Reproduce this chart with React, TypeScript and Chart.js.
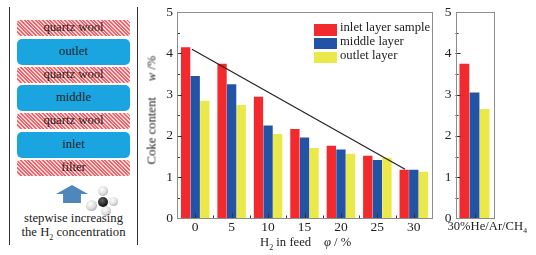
import React, { useEffect, useRef } from "react";
import { Chart, registerables } from "chart.js";

Chart.register(...registerables);

const categories = ["0", "5", "10", "15", "20", "25", "30"];
const inletValues = [4.15, 3.75, 2.95, 2.17, 1.76, 1.52, 1.18];
const middleValues = [3.45, 3.25, 2.25, 1.96, 1.67, 1.42, 1.18];
const outletValues = [2.85, 2.75, 2.05, 1.71, 1.57, 1.47, 1.13];
const trendX = [-0.45, 28.8];
const trendY = [4.06, 1.18];
const sideCategories = ["30%He/Ar/CH₄"];
const sideInlet = [3.75];
const sideMiddle = [3.05];
const sideOutlet = [2.65];
const seriesNames = ["inlet layer sample", "middle layer", "outlet layer"];
const seriesColors = ["#f22a2e", "#2353a5", "#ebe84a"];
const yMinorTicks = [0.5, 1, 1.5, 2, 2.5, 3, 3.5, 4, 4.5];

const SERIF = "'Liberation Serif', serif";
const TEXT = "#222";

const boxAndTicks = {
  id: "boxAndTicks",
  afterDraw(chart: any) {
    const { ctx, chartArea: a, scales } = chart;
    ctx.save();
    ctx.lineWidth = 1;
    ctx.strokeStyle = "#333";
    ctx.beginPath();
    for (const v of yMinorTicks) {
      const y = Math.round(scales.y.getPixelForValue(v)) + 0.5;
      ctx.moveTo(a.left, y);
      ctx.lineTo(a.left + (Number.isInteger(v) ? 5 : 3), y);
    }
    const n = scales.x.ticks.length;
    const step = a.width / n;
    for (let i = 0; i < n; i++) {
      const xc = Math.round(scales.x.getPixelForTick(i)) + 0.5;
      ctx.moveTo(xc, a.bottom);
      ctx.lineTo(xc, a.bottom - 5);
      if (i > 0) {
        const xb = Math.round(a.left + step * i) + 0.5;
        ctx.moveTo(xb, a.bottom);
        ctx.lineTo(xb, a.bottom - 3);
      }
    }
    ctx.stroke();
    ctx.strokeStyle = "#8c8c8c";
    ctx.strokeRect(Math.round(a.left) + 0.5, Math.round(a.top) + 0.5, Math.round(a.width), Math.round(a.height));
    ctx.restore();
  },
};

function yAxis(width: number) {
  return {
    min: 0,
    max: 5,
    grid: { display: false, drawTicks: false },
    border: { display: false },
    ticks: { stepSize: 1, color: TEXT, padding: 4, font: { family: SERIF, size: 13.5 } },
    afterFit(s: any) {
      s.width = width;
    },
  };
}

function xAxis(labelOffset: number, size: number) {
  return {
    offset: true,
    grid: { display: false, drawTicks: false },
    border: { display: false },
    ticks: {
      color: TEXT,
      padding: 1,
      autoSkip: false,
      maxRotation: 0,
      labelOffset,
      font: { family: SERIF, size },
    },
    afterFit(s: any) {
      s.height = 36.5;
      s.paddingLeft = 0;
      s.paddingRight = 0;
    },
  };
}

const baseOptions = {
  responsive: false,
  animation: false,
  plugins: { legend: { display: false }, tooltip: { enabled: false } },
};

const Hatch: React.FC<{ top: number; height: number; label: string }> = ({ top, height, label }) => (
  <div
    style={{
      position: "absolute",
      left: 17,
      width: 113,
      top,
      height,
      lineHeight: height - 2 + "px",
      textAlign: "center",
      borderRadius: 3,
      background: "repeating-linear-gradient(45deg, #f4626a 0 1.4px, #fbd9da 1.4px 2.6px)",
    }}
  >
    {label}
  </div>
);

const Blue: React.FC<{ top: number; label: string }> = ({ top, label }) => (
  <div
    style={{
      position: "absolute",
      left: 17,
      width: 113,
      top,
      height: 26,
      lineHeight: "25px",
      textAlign: "center",
      borderRadius: 5,
      background: "#1ba5e0",
    }}
  >
    {label}
  </div>
);

const Ball: React.FC<{ x: number; y: number; r: number; dark?: boolean }> = ({ x, y, r, dark }) => (
  <div
    style={{
      position: "absolute",
      left: x - r,
      top: y - r,
      width: r * 2,
      height: r * 2,
      borderRadius: "50%",
      background: dark
        ? "radial-gradient(circle at 40% 35%, #666, #111 70%)"
        : "radial-gradient(circle at 40% 35%, #fff, #ddd 50%, #888)",
    }}
  />
);

export default function App() {
  const mainRef = useRef<HTMLCanvasElement>(null);
  const trendRef = useRef<HTMLCanvasElement>(null);
  const sideRef = useRef<HTMLCanvasElement>(null);

  useEffect(() => {
    document.body.style.margin = "0";
    const main = new Chart(mainRef.current!, {
      type: "bar",
      data: {
        labels: categories,
        datasets: [inletValues, middleValues, outletValues].map((data, i) => ({
          label: seriesNames[i],
          data,
          backgroundColor: seriesColors[i],
          categoryPercentage: 0.79,
          barPercentage: 0.97,
        })),
      },
      options: {
        ...baseOptions,
        layout: { padding: { top: 10, right: 8, left: 0, bottom: 0 } },
        scales: { x: xAxis(0, 13.5), y: yAxis(37) },
      } as any,
      plugins: [boxAndTicks],
    });
    const trend = new Chart(trendRef.current!, {
      type: "scatter",
      data: {
        datasets: [
          {
            data: trendX.map((x, i) => ({ x, y: trendY[i] })),
            showLine: true,
            borderColor: "#222",
            borderWidth: 1.2,
            pointRadius: 0,
          },
        ],
      },
      options: {
        ...baseOptions,
        layout: { padding: { top: 10, right: 8, left: 37, bottom: 36.5 } },
        scales: {
          x: { type: "linear", display: false, min: -2.5, max: 32.5 },
          y: { type: "linear", display: false, min: 0, max: 5 },
        },
      } as any,
    });
    const side = new Chart(sideRef.current!, {
      type: "bar",
      data: {
        labels: sideCategories,
        datasets: [sideInlet, sideMiddle, sideOutlet].map((data, i) => ({
          label: seriesNames[i],
          data,
          backgroundColor: seriesColors[i],
          categoryPercentage: 0.8,
          barPercentage: 0.97,
        })),
      },
      options: {
        ...baseOptions,
        layout: { padding: { top: 10, right: 42.5, left: 0, bottom: 0 } },
        scales: { x: xAxis(13, 12.6), y: yAxis(15.5) },
      } as any,
      plugins: [boxAndTicks],
    });
    return () => {
      main.destroy();
      trend.destroy();
      side.destroy();
    };
  }, []);

  return (
    <div
      style={{
        position: "fixed",
        left: 0,
        top: 0,
        width: 536,
        height: 255,
        overflow: "hidden",
        background: "#fff",
        fontFamily: SERIF,
        fontSize: 12.7,
        color: TEXT,
      }}
    >
      <div style={{ position: "absolute", left: 9, top: 7, width: 1, height: 238, background: "#333" }} />
      <div style={{ position: "absolute", left: 137, top: 7, width: 1, height: 238, background: "#333" }} />
      <Hatch top={20} height={16} label="quartz wool" />
      <Blue top={39} label="outlet" />
      <Hatch top={67} height={16} label="quartz wool" />
      <Blue top={85} label="middle" />
      <Hatch top={113} height={16} label="quartz wool" />
      <Blue top={132} label="inlet" />
      <Hatch top={160} height={16} label="filter" />
      <div
        style={{
          position: "absolute",
          left: 56,
          top: 185,
          width: 32,
          height: 18,
          background: "#4f87bd",
          clipPath: "polygon(50% 0, 100% 50%, 78% 50%, 78% 100%, 22% 100%, 22% 50%, 0 50%)",
        }}
      />
      <Ball x={91} y={205} r={5.5} />
      <Ball x={103} y={191} r={5} />
      <Ball x={113} y={201} r={4.5} />
      <Ball x={106} y={211} r={5} />
      <Ball x={103} y={202} r={5} dark />
      <div style={{ position: "absolute", left: 0, width: 147, top: 211, textAlign: "center", lineHeight: "15px" }}>
        stepwise increasing
      </div>
      <div style={{ position: "absolute", left: 0, width: 147, top: 225, textAlign: "center", lineHeight: "15px" }}>
        the H<sub style={{ fontSize: 8, lineHeight: 0 }}>2</sub> concentration
      </div>

      <canvas ref={mainRef} width={300} height={255} style={{ position: "absolute", left: 140, top: 0 }} />
      <canvas ref={trendRef} width={300} height={255} style={{ position: "absolute", left: 140, top: 0 }} />
      <canvas ref={sideRef} width={96} height={255} style={{ position: "absolute", left: 440, top: 0 }} />

      <div
        style={{
          position: "absolute",
          left: 152,
          top: 110,
          whiteSpace: "pre",
          transform: "translate(-50%, -50%) rotate(-90deg)",
          lineHeight: "15px",
        }}
      >
        Coke content{"     "}
        <i>w</i> /%
      </div>
      <div style={{ position: "absolute", left: 260, top: 235, whiteSpace: "pre", lineHeight: "15px" }}>
        H<sub style={{ fontSize: 8, lineHeight: 0 }}>2</sub> in feed{"    "}
        <i>φ</i> / %
      </div>

      {seriesNames.map((name, i) => (
        <React.Fragment key={name}>
          <div
            style={{
              position: "absolute",
              left: 314,
              top: 24 + i * 13.8,
              width: 23,
              height: 11.5,
              background: seriesColors[i],
            }}
          />
          <div
            style={{
              position: "absolute",
              left: 340,
              top: 20 + i * 14.2,
              lineHeight: "15px",
              whiteSpace: "pre",
            }}
          >
            {name}
          </div>
        </React.Fragment>
      ))}
    </div>
  );
}
